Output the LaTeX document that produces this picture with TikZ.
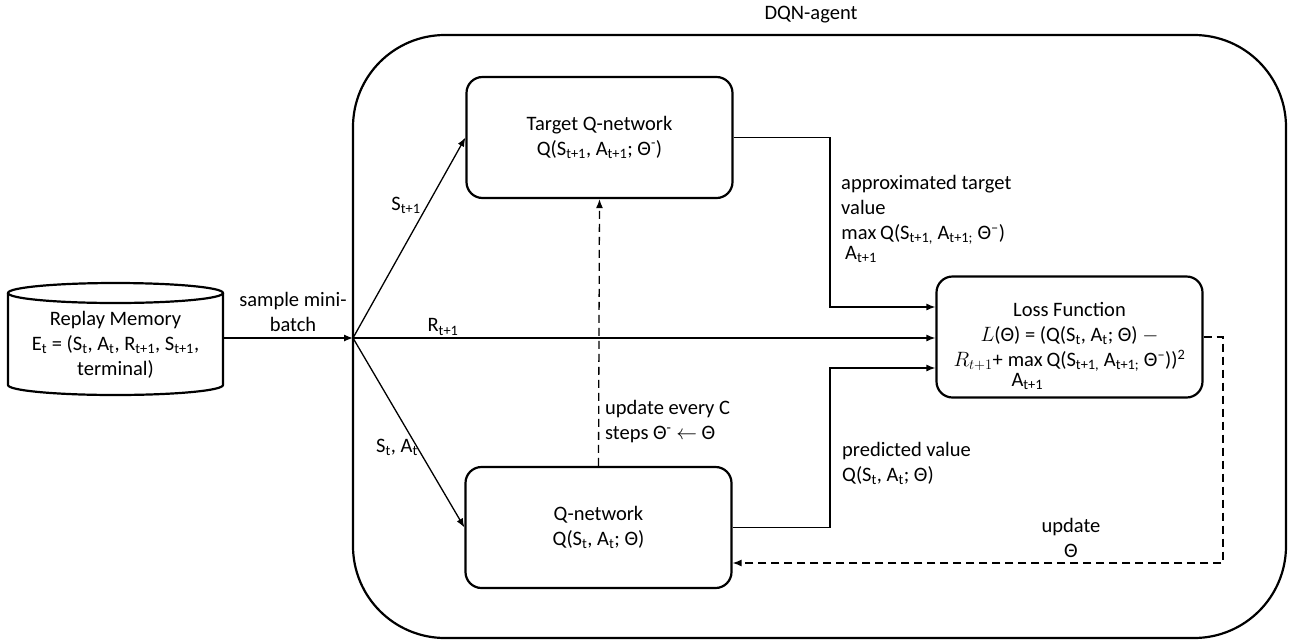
\documentclass[tikz,border=0pt]{standalone}
\usepackage{fontspec}
\setmainfont{Carlito}
\usetikzlibrary{arrows.meta,calc}
% "max" with its index set underneath, kept out of the line height
\newcommand\maxsub{\smash{\begin{tabular}[t]{@{}c@{}}$\max$\\[-5pt]\hspace{4pt}A\textsubscript{t+1}\end{tabular}}}
\begin{document}
\begin{tikzpicture}[x=1pt,y=1pt,font=\fontsize{20.5}{25}\selectfont,
  box/.style={draw, line width=2.2pt, rounded corners=16pt, minimum width=266pt,
    minimum height=121pt, align=center, inner sep=0pt},
  arr/.style={line width=1.3pt, -{Latex[length=9pt,width=7pt]}},
  darr/.style={arr, dash pattern=on 8pt off 5pt},
  lbl/.style={inner sep=0pt, align=left}]
\useasboundingbox (0,0) rectangle (1302,-641);

% agent frame
\node[draw, line width=2.2pt, rounded corners=92pt, minimum width=933pt,
  minimum height=603pt, inner sep=0pt] (agent) at (819.5,-336.5) {};
\node (dqn) at (811,-15) {DQN-agent};

% replay memory drum
\draw[line width=2.2pt] (8,-293) -- (8,-385)
  arc[start angle=180, end angle=360, x radius=107.5pt, y radius=10pt] -- (223,-293);
\draw[line width=2.2pt] (115.5,-293) ellipse [x radius=107.5pt, y radius=10pt];
\node[minimum width=215pt, inner sep=0pt, align=center] (mem) at (115.5,-345)
  {Replay Memory\\E\textsubscript{t} = (S\textsubscript{t}, A\textsubscript{t}, R\textsubscript{t+1}, S\textsubscript{t+1},\\terminal)};

% networks and loss
\node[box] (target) at (599.5,-137.5)
  {Target Q-network\\Q(S\textsubscript{t+1}, A\textsubscript{t+1}; Θ\textsuperscript{-})};
\node[box] (qnet) at (598.5,-527.5)
  {Q-network\\Q(S\textsubscript{t}, A\textsubscript{t}; Θ)};
\node[box] (loss) at (1069.5,-337)
  {Loss Function\\$L$(Θ) = (Q(S\textsubscript{t}, A\textsubscript{t}; Θ) $-$\\$R_{t+1}$+ \maxsub\,Q(S\textsubscript{t+1,} A\textsubscript{t+1;} Θ\textsuperscript{–}))\textsuperscript{2}};

% sampling fan-out
\coordinate (br) at (353,-338);
\node[align=center] (smb) at (293,-312) {sample mini-\\batch};
\draw[arr] (mem.east |- br) -- (br);
\draw[arr] (br) -- (target.west);
\draw[arr] (br) -- (br -| loss.west);
\draw[arr] (br) -- (qnet.west);
\node (ls) at (406,-205) {S\textsubscript{t+1}};
\node (lr) at (443,-327) {R\textsubscript{t+1}};
\node (lsa) at (397,-447) {S\textsubscript{t}, A\textsubscript{t}};

% values into the loss
\coordinate (vx) at (830,0);
\coordinate (lt) at ($(loss.west)+(0,30)$);
\coordinate (lb) at ($(loss.west)+(0,-31)$);
\draw[arr] (target.east) -- (target.east -| vx) -- (vx |- lt) -- (lt);
\draw[arr] (qnet.east) -- (qnet.east -| vx) -- (vx |- lb) -- (lb);
\node[lbl, anchor=west] (lat) at (841,-210)
  {approximated target\\value\\\maxsub\,Q(S\textsubscript{t+1,} A\textsubscript{t+1;} Θ\textsuperscript{–})};
\node[lbl, anchor=west] (lpv) at (842,-463)
  {predicted value\\Q(S\textsubscript{t}, A\textsubscript{t}; Θ)};

% parameter updates
\draw[darr] (qnet.north) -- (target.south);
\node[lbl, anchor=west] (luc) at (605,-422)
  {update every C\\steps Θ\textsuperscript{-} $\leftarrow$ Θ};
\coordinate (dx) at (1223,0);
\coordinate (qu) at ($(qnet.east)+(0,-35.5)$);
\draw[darr] (loss.east) -- (loss.east -| dx) -- (dx |- qu) -- (qu);
\node[align=center, inner sep=0pt] (lut) at (1071,-538) {update\\Θ};
\end{tikzpicture}
\end{document}
